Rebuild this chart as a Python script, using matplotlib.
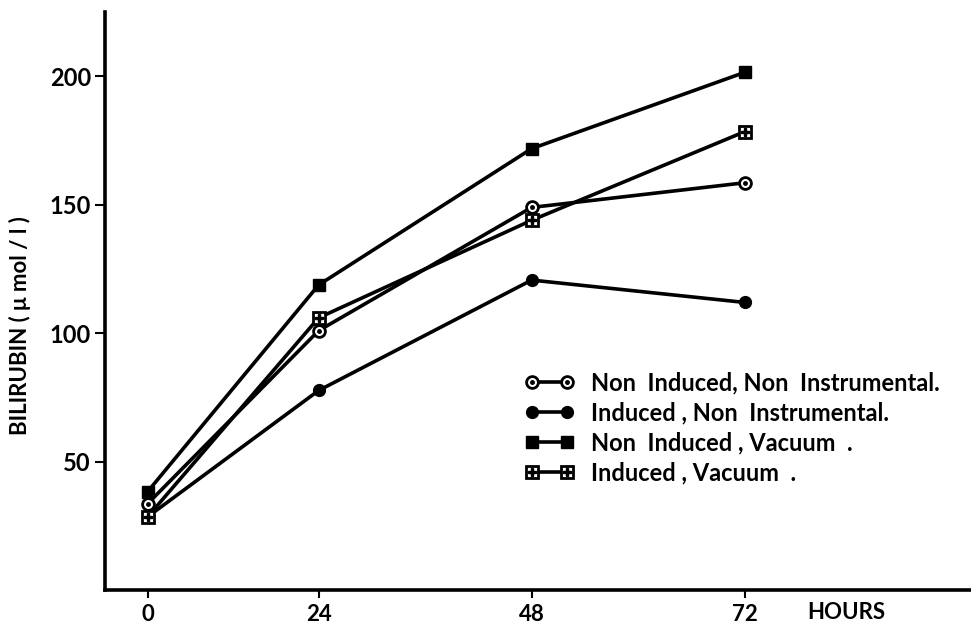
import numpy as np
import matplotlib
matplotlib.use("Agg")
import matplotlib.pyplot as plt
from matplotlib.legend_handler import HandlerTuple

plt.rcParams['font.family'] = ['Lato', 'DejaVu Sans']
plt.rcParams['font.weight'] = 'bold'

hours = [0, 24, 48, 72]
non_induced_non_instr = [33.6, 101, 149, 158.6]
induced_non_instr = [28.5, 77.7, 120.7, 112]
non_induced_vacuum = [38.3, 118.8, 171.9, 201.6]
induced_vacuum = [28.5, 106, 144, 178.5]
labels = ["Non  Induced, Non  Instrumental.",
          "Induced , Non  Instrumental.",
          "Non  Induced , Vacuum  .",
          "Induced , Vacuum  ."]
y_ticks = [50, 100, 150, 200]


# the original time axis is not evenly spaced: first interval is shorter
def fwd(x):
    x = np.asarray(x, dtype=float)
    return np.where(x < 24, x * 171 / 24, 171 + (x - 24) * 213 / 24)


def inv(u):
    u = np.asarray(u, dtype=float)
    return np.where(u < 171, u * 24 / 171, 24 + (u - 171) * 24 / 213)


fig = plt.figure(figsize=(9.71, 6.3), dpi=100)
ax = fig.add_axes([0.108, 0.0635, 0.892, 0.917])
ax.set_xscale('function', functions=(fwd, inv))

lw = 2.6
ms = 8.5
k = 'black'

l1, = ax.plot(hours, non_induced_non_instr, color=k, lw=lw, marker='o', ms=ms,
              mfc='white', mec=k, mew=2, zorder=3)
d1, = ax.plot(hours, non_induced_non_instr, ls='none', marker='o', ms=2.5,
              color=k, zorder=4)
l2, = ax.plot(hours, induced_non_instr, color=k, lw=lw, marker='o', ms=ms,
              mfc=k, mec=k, zorder=3)
l3, = ax.plot(hours, non_induced_vacuum, color=k, lw=lw, marker='s', ms=ms,
              mfc=k, mec=k, zorder=3)
l4, = ax.plot(hours, induced_vacuum, color=k, lw=lw, marker='s', ms=ms,
              mfc='white', mec=k, mew=2, zorder=3)
d4, = ax.plot(hours, induced_vacuum, ls='none', marker='P', ms=6,
              color=k, zorder=4)

ax.set_xlim(-6, 97.5)
ax.set_ylim(0, 225)

ax.spines['top'].set_visible(False)
ax.spines['right'].set_visible(False)
ax.spines['left'].set_linewidth(2.6)
ax.spines['bottom'].set_linewidth(2.6)

ax.set_xticks(hours)
ax.set_xticklabels([str(h) for h in hours], fontsize=16, fontweight='bold')
ax.set_yticks(y_ticks)
ax.set_yticklabels([str(v) for v in y_ticks], fontsize=17, fontweight='bold')
ax.tick_params(axis='x', length=6, width=1.5, pad=4)
ax.tick_params(axis='y', length=7, width=1.5, pad=3)

ax.text(79, -4.5, "HOURS", fontsize=16, fontweight='bold', ha='left', va='top')
ax.set_ylabel("BILIRUBIN ( \u03bc mol / l )", fontsize=16, fontweight='bold',
              va='center', ha='center')
ax.yaxis.set_label_coords(-0.098, 0.458)

ax.legend([(l1, d1), l2, l3, (l4, d4)], labels, numpoints=2, frameon=False,
          handler_map={tuple: HandlerTuple(ndivide=1)},
          loc='upper left', bbox_to_anchor=(0.46, 0.415),
          prop={'size': 17, 'weight': 'bold'}, handlelength=2.1,
          handletextpad=0.7, labelspacing=0.3)

fig.savefig("out.png", dpi=100)
